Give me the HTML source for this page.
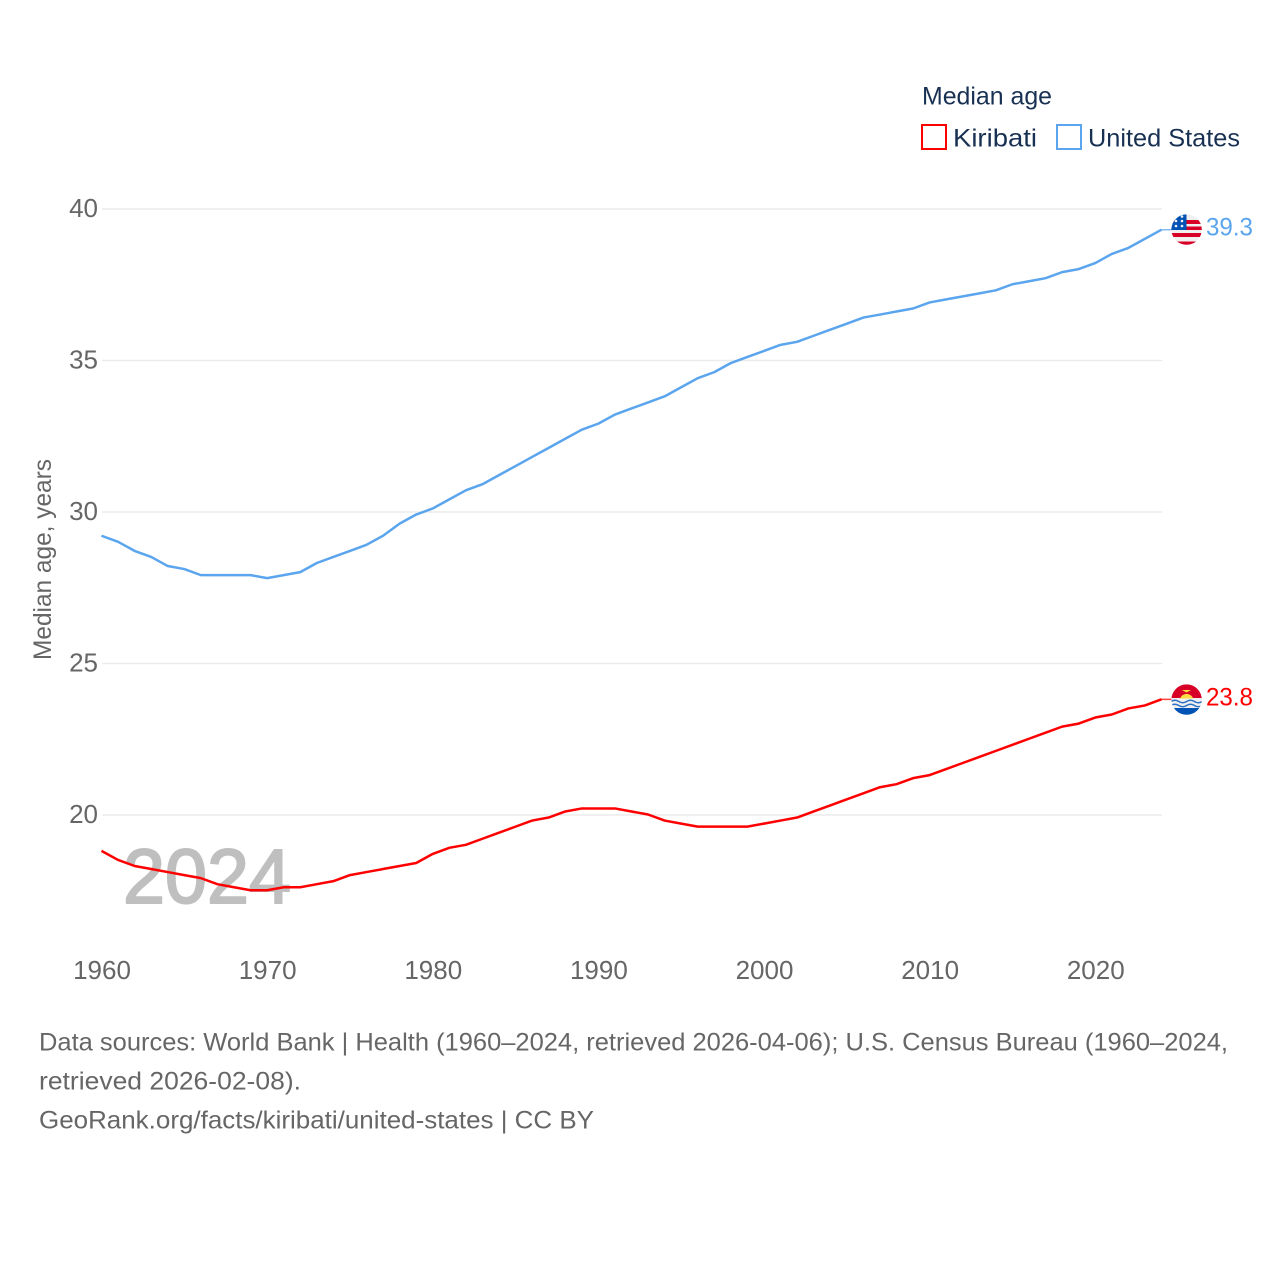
<!DOCTYPE html>
<html lang="en">
<head>
<meta charset="utf-8">
<title>Median age: Kiribati and United States</title>
<style>
html,body{margin:0;padding:0;background:#fff;width:1280px;height:1280px;overflow:hidden}
svg{display:block;font-family:"Liberation Sans",sans-serif}
</style>
</head>
<body>
<svg id="chart" width="1280" height="1280" viewBox="0 0 1280 1280" xmlns="http://www.w3.org/2000/svg">
<defs>
<clipPath id="us-clip"><circle cx="1186.6" cy="229.6" r="15.2"/></clipPath>
<clipPath id="ki-clip"><circle cx="1186.6" cy="699.6" r="15.2"/></clipPath>
</defs>
<rect width="1280" height="1280" fill="#fff"/>
<g id="grid"></g>
<text x="123" y="903" font-size="77" fill="#bfbfbf" stroke="#bfbfbf" stroke-width="2" textLength="168" lengthAdjust="spacingAndGlyphs">2024</text>
<g id="y-ticks"></g>
<g id="x-ticks"></g>
<text transform="translate(51,660) rotate(-90)" font-size="25" fill="#666" textLength="201" lengthAdjust="spacingAndGlyphs">Median age, years</text>
<g id="series" transform="translate(-0.5,-0.5)"></g>

<g clip-path="url(#us-clip)">
<rect x="1171" y="214" width="31" height="32" fill="#f0f0f0"/>
<rect x="1171" y="220" width="31" height="4" fill="#d80027"/>
<rect x="1171" y="226.500" width="31" height="3.500" fill="#d80027"/>
<rect x="1171" y="233" width="31" height="4" fill="#d80027"/>
<rect x="1171" y="241.500" width="31" height="4.500" fill="#d80027"/>
<rect x="1171" y="214" width="15.500" height="16" fill="#0052b4"/>
<g fill="#f0f0f0"><circle cx="1176" cy="226" r="1.300"/><circle cx="1182" cy="226" r="1.300"/><circle cx="1176" cy="221" r="1.300"/><circle cx="1182" cy="221" r="1.300"/><circle cx="1182" cy="216.500" r="1.300"/></g>
</g>
<g clip-path="url(#ki-clip)">
<rect x="1171" y="684" width="31" height="15" fill="#d80027"/>
<rect x="1171" y="698" width="31" height="18" fill="#f0f0f0"/>
<rect x="1171" y="708" width="31" height="8" fill="#0052b4"/>
<path d="M1180 698.500a7 7 0 0 1 13.200 0z" fill="#ffda44"/>
<path d="M1182 690h9l-4.500 2.500z" fill="#ffda44"/>
<path d="M1171 701.500q3.900-2.500 7.800 0t7.800 0 7.800 0 7.800 0M1171 705.500q3.900-2.500 7.800 0t7.800 0 7.800 0 7.800 0" fill="none" stroke="#2a6fc4" stroke-width="1.500"/>
</g>

<text x="1206" y="235.500" font-size="25" fill="#5ba5ee" textLength="47" lengthAdjust="spacingAndGlyphs">39.3</text>
<text x="1206" y="705.500" font-size="25" fill="#ff0000" textLength="47" lengthAdjust="spacingAndGlyphs">23.8</text>

<g>
<text x="922" y="104.500" font-size="25" fill="#183153" textLength="130" lengthAdjust="spacingAndGlyphs">Median age</text>
<rect x="922" y="125" width="24" height="24" fill="#fff" stroke="#ff0000" stroke-width="2"/>
<text x="953" y="146.500" font-size="25" fill="#183153" textLength="84" lengthAdjust="spacingAndGlyphs">Kiribati</text>
<rect x="1057" y="125" width="24" height="24" fill="#fff" stroke="#5ba5ee" stroke-width="2"/>
<text x="1088" y="146.500" font-size="25" fill="#183153" textLength="152" lengthAdjust="spacingAndGlyphs">United States</text>
</g>

<g font-size="25" fill="#666">
<text x="39" y="1050.500" textLength="1189" lengthAdjust="spacingAndGlyphs">Data sources: World Bank | Health (1960–2024, retrieved 2026-04-06); U.S. Census Bureau (1960–2024,</text>
<text x="39" y="1089.500" textLength="262" lengthAdjust="spacingAndGlyphs">retrieved 2026-02-08).</text>
<text x="39" y="1128.500" textLength="555" lengthAdjust="spacingAndGlyphs">GeoRank.org/facts/kiribati/united-states | CC BY</text>
</g>
</svg>
<script>
const years = [1960,1961,1962,1963,1964,1965,1966,1967,1968,1969,1970,1971,1972,1973,1974,1975,1976,1977,1978,1979,1980,1981,1982,1983,1984,1985,1986,1987,1988,1989,1990,1991,1992,1993,1994,1995,1996,1997,1998,1999,2000,2001,2002,2003,2004,2005,2006,2007,2008,2009,2010,2011,2012,2013,2014,2015,2016,2017,2018,2019,2020,2021,2022,2023,2024];
const unitedStates = [29.2,29.0,28.7,28.5,28.2,28.1,27.9,27.9,27.9,27.9,27.8,27.9,28.0,28.3,28.5,28.7,28.9,29.2,29.6,29.9,30.1,30.4,30.7,30.9,31.2,31.5,31.8,32.1,32.4,32.7,32.9,33.2,33.4,33.6,33.8,34.1,34.4,34.6,34.9,35.1,35.3,35.5,35.6,35.8,36.0,36.2,36.4,36.5,36.6,36.7,36.9,37.0,37.1,37.2,37.3,37.5,37.6,37.7,37.9,38.0,38.2,38.5,38.7,39.0,39.3];
const kiribati = [18.8,18.5,18.3,18.2,18.1,18.0,17.9,17.7,17.6,17.5,17.5,17.6,17.6,17.7,17.8,18.0,18.1,18.2,18.3,18.4,18.7,18.9,19.0,19.2,19.4,19.6,19.8,19.9,20.1,20.2,20.2,20.2,20.1,20.0,19.8,19.7,19.6,19.6,19.6,19.6,19.7,19.8,19.9,20.1,20.3,20.5,20.7,20.9,21.0,21.2,21.3,21.5,21.7,21.9,22.1,22.3,22.5,22.7,22.9,23.0,23.2,23.3,23.5,23.6,23.8];
const yTickValues = [20,25,30,35,40];
const xTickValues = [1960,1970,1980,1990,2000,2010,2020];

const NS = 'http://www.w3.org/2000/svg';
function xScale(year){ return 102 + (year - 1960) * (1162 - 102) / 64; }
function yScale(v){ return 815 - (v - 20) * (815 - 209) / 20; }
const gridG = document.getElementById('grid');
const yG = document.getElementById('y-ticks');
const xG = document.getElementById('x-ticks');
const seriesG = document.getElementById('series');

yTickValues.forEach(function(v){
  const line = document.createElementNS(NS,'line');
  
  
  line.setAttribute('x1', xScale(1960));
  line.setAttribute('x2', xScale(2024));
  line.setAttribute('y1', yScale(v));
  line.setAttribute('y2', yScale(v));
  line.setAttribute('stroke', '#ececec');
  line.setAttribute('stroke-width', '1.5');
  gridG.appendChild(line);
  const t = document.createElementNS(NS,'text');
  
  
  t.setAttribute('x', 98);
  t.setAttribute('y', yScale(v) + 8);
  t.setAttribute('text-anchor', 'end');
  t.setAttribute('font-size', '26');
  t.setAttribute('fill', '#666');
  t.textContent = v;
  yG.appendChild(t);
});

xTickValues.forEach(function(y){
  const t = document.createElementNS(NS,'text');
  
  
  t.setAttribute('x', xScale(y));
  t.setAttribute('y', 979);
  t.setAttribute('text-anchor', 'middle');
  t.setAttribute('font-size', '26');
  t.setAttribute('fill', '#666');
  t.textContent = y;
  xG.appendChild(t);
});

function drawSeries(values, color, name){
  const pts = values.map(function(v,i){ return xScale(years[i]).toFixed(2) + ',' + yScale(v).toFixed(2); });
  const line = document.createElementNS(NS,'polyline');
  
  
  line.setAttribute('points', pts.join(' '));
  line.setAttribute('fill', 'none');
  line.setAttribute('stroke', color);
  line.setAttribute('stroke-width', '2.5');
  line.setAttribute('stroke-linejoin', 'round');
  seriesG.appendChild(line);
  const last = values[values.length - 1];
  const lastX = xScale(years[years.length - 1]);
  const tail = document.createElementNS(NS,'line');
  
  
  tail.setAttribute('x1', lastX);
  tail.setAttribute('x2', lastX + 10);
  tail.setAttribute('y1', yScale(last));
  tail.setAttribute('y2', yScale(last));
  tail.setAttribute('stroke', color);
  tail.setAttribute('stroke-opacity', '0.75');
  tail.setAttribute('stroke-width', '1.5');
  seriesG.appendChild(tail);
}
drawSeries(unitedStates, '#5ba5ee', 'united-states-line');
drawSeries(kiribati, '#ff0000', 'kiribati-line');
</script>
</body>
</html>
